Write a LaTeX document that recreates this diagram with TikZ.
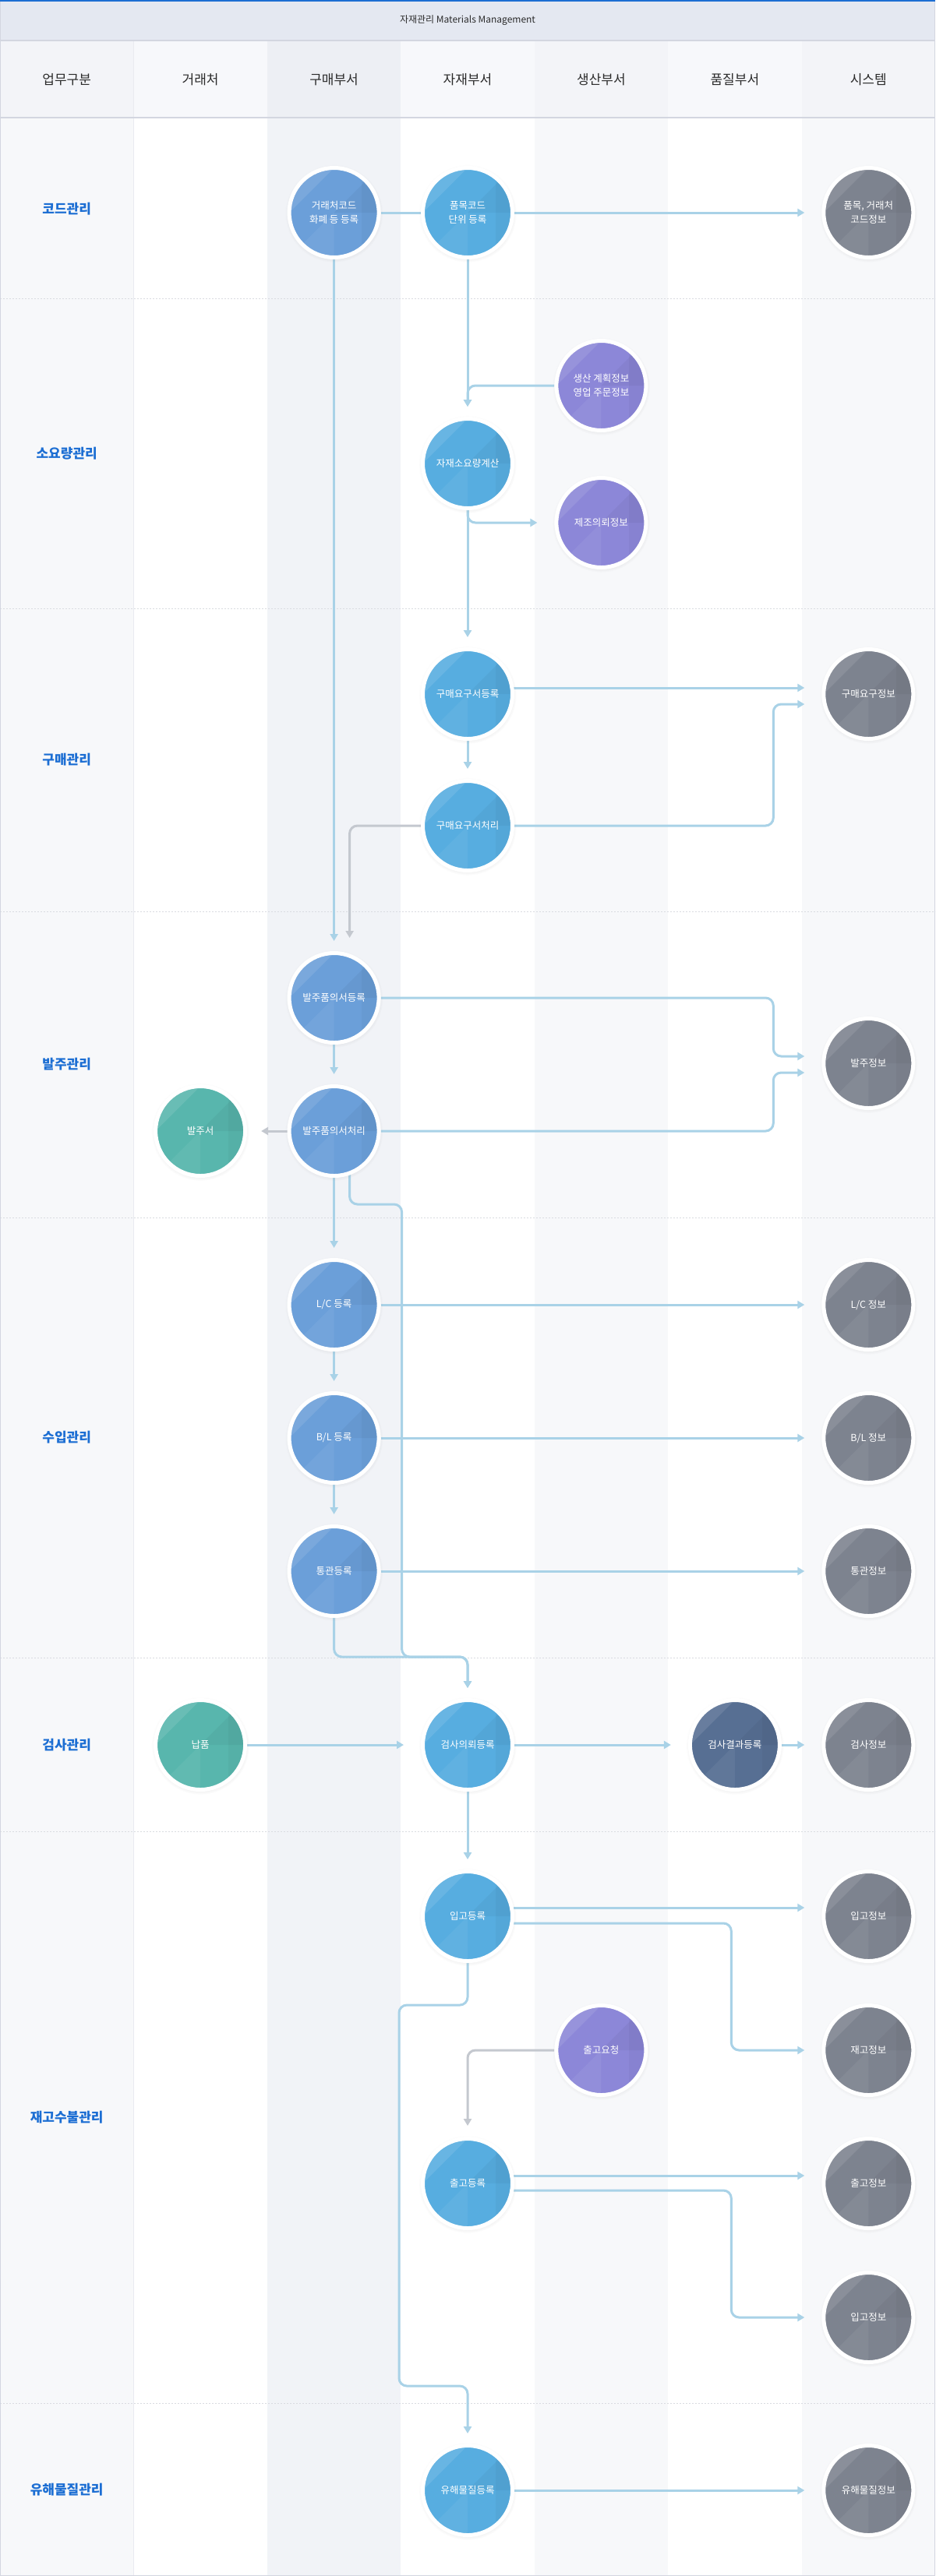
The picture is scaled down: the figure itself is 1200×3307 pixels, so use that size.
\documentclass[tikz,border=0pt]{standalone}
\usepackage{fontspec}
\setmainfont{Noto Sans CJK KR}
\usepackage{xcolor}
\usepackage{tikz}
\usetikzlibrary{arrows.meta, shadows, calc}
\definecolor{mm_blue}{HTML}{1C6ED3}
\definecolor{mm_title}{HTML}{E4E8F1}
\definecolor{mm_rule}{HTML}{D3D6E0}
\definecolor{mm_dot}{HTML}{D9DBE0}
\definecolor{mm_sep}{HTML}{E9EBF0}
\definecolor{mm_light}{HTML}{F7F8FA}
\definecolor{mm_gray}{HTML}{F1F3F7}
\definecolor{mm_hlight}{HTML}{F3F4F8}
\definecolor{mm_hwhite}{HTML}{F7F8FB}
\definecolor{mm_hgray}{HTML}{EDEFF4}
\definecolor{mm_line}{HTML}{A9D2E7}
\definecolor{mm_grayline}{HTML}{C4C8CF}
\definecolor{mm_buy}{HTML}{6B9FD9}
\definecolor{mm_mat}{HTML}{57ADE0}
\definecolor{mm_prod}{HTML}{8C87D8}
\definecolor{mm_sys}{HTML}{7D838F}
\definecolor{mm_vend}{HTML}{58B6AD}
\definecolor{mm_qual}{HTML}{576F93}
\definecolor{mm_text}{HTML}{2B2B2B}
\pgfdeclarelayer{back}
\pgfdeclarelayer{wires}
\pgfsetlayers{back,wires,main}

\begin{document}
\begin{tikzpicture}[x=1pt, y=-1pt, font=\fontsize{12.5}{18}\selectfont,
            disc/.style={circle, minimum size=115pt, inner sep=0pt, draw=white,
                         line width=5pt, text=white, align=center,
                         circular drop shadow={shadow xshift=0pt, shadow yshift=-1pt,
                                               opacity=.18, shadow scale=1.09},
                         path picture={
                           \fill[white, opacity=.10] (path picture bounding box.north west)
                             -- (path picture bounding box.north) -- (path picture bounding box.west) -- cycle;
                           \fill[white, opacity=.06] (path picture bounding box.south west)
                             -- (path picture bounding box.center) -- (path picture bounding box.south) -- cycle;
                           \fill[black, opacity=.04] (path picture bounding box.north east)
                             -- (path picture bounding box.center) -- (path picture bounding box.east) -- cycle;
                           \fill[black, opacity=.03] ([xshift=-22pt]path picture bounding box.north east)
                             rectangle (path picture bounding box.south east);}},
            buy/.style={disc, fill=mm_buy},
            mat/.style={disc, fill=mm_mat},
            prod/.style={disc, fill=mm_prod},
            sys/.style={disc, fill=mm_sys},
            vend/.style={disc, fill=mm_vend},
            qual/.style={disc, fill=mm_qual},
            head/.style={font=\fontsize{17}{20}\selectfont, text=mm_text},
            rowlab/.style={font=\fontsize{17}{20}\selectfont\bfseries, text=mm_blue},
            wire/.style={draw=mm_line, line width=3pt, rounded corners=10pt},
            flow/.style={wire, -{Triangle[width=10pt, length=9pt]}},
            hflow/.style={flow, shorten >=22pt},
            vflow/.style={flow, shorten >=13pt},
            gflow/.style={flow, draw=mm_grayline}]
  \useasboundingbox (0,0) rectangle (1200,3307);
  \begin{pgfonlayer}{back}
    \foreach \i/\c/\h in {0/mm_light/mm_hlight, 1/white/mm_hwhite, 2/mm_gray/mm_hgray,
                          3/white/mm_hwhite, 4/mm_light/mm_hlight, 5/white/mm_hwhite,
                          6/mm_light/mm_hlight} {
      \fill[\c] ({\i*1200/7},151) rectangle ({(\i+1)*1200/7},3307);
      \fill[\h] ({\i*1200/7},52) rectangle ({(\i+1)*1200/7},151);
    }
    \fill[mm_title] (0,0) rectangle (1200,52);
    \fill[mm_blue] (0,0) rectangle (1200,2);
    \draw[mm_sep, line width=1pt] (171.4,52) -- (171.4,3307);
    \draw[mm_rule, line width=1.5pt] (0,52) -- (1200,52);
    \draw[mm_rule, line width=1.5pt] (0,151) -- (1200,151);
    \foreach \y in {383, 781, 1170, 1563, 2128, 2351, 3085}
      \draw[mm_dot, line width=1pt, dash pattern=on 2pt off 2pt] (0,\y) -- (1200,\y);
    \draw[mm_rule, line width=1pt] (0.5,2) -- (0.5,3306.5) -- (1199.5,3306.5) -- (1199.5,2);
  \end{pgfonlayer}

  \node[font=\fontsize{12}{14}\selectfont, text=mm_text] (title) at (600,26)
    {자재관리 Materials Management};
  \foreach \i/\t in {0/업무구분, 1/거래처, 2/구매부서, 3/자재부서, 4/생산부서, 5/품질부서, 6/시스템}
    \node[head] (h\i) at ({(\i+0.5)*1200/7},102) {\t};
  \foreach \y/\t in {268/코드관리, 582/소요량관리, 975/구매관리, 1366/발주관리,
                     1845/수입관리, 2240/검사관리, 2718/재고수불관리, 3196/유해물질관리}
    \node[rowlab] (r\y) at (85.7,\y) {\t};

  \node[buy] (vcode) at (428.6,273) {거래처코드\\화폐 등 등록};
  \node[mat] (icode) at (600,273) {품목코드\\단위 등록};
  \node[sys] (scode) at (1114.3,273) {품목, 거래처\\코드정보};

  \node[prod] (plan) at (771.4,495) {생산 계획정보\\영업 주문정보};
  \node[mat] (calc) at (600,595) {자재소요량계산};
  \node[prod] (mfg) at (771.4,671) {제조의뢰정보};

  \node[mat] (preq) at (600,891) {구매요구서등록};
  \node[sys] (sreq) at (1114.3,891) {구매요구정보};
  \node[mat] (pproc) at (600,1060) {구매요구서처리};

  \node[buy] (oreg) at (428.6,1281) {발주품의서등록};
  \node[sys] (sord) at (1114.3,1365) {발주정보};
  \node[buy] (oproc) at (428.6,1452) {발주품의서처리};
  \node[vend] (porder) at (257.1,1452) {발주서};

  \node[buy] (lc) at (428.6,1675) {L/C 등록};
  \node[sys] (slc) at (1114.3,1675) {L/C 정보};
  \node[buy] (bl) at (428.6,1846) {B/L 등록};
  \node[sys] (sbl) at (1114.3,1846) {B/L 정보};
  \node[buy] (cust) at (428.6,2017) {통관등록};
  \node[sys] (scust) at (1114.3,2017) {통관정보};

  \node[vend] (deliv) at (257.1,2240) {납품};
  \node[mat] (insp) at (600,2240) {검사의뢰등록};
  \node[qual] (qres) at (942.9,2240) {검사결과등록};
  \node[sys] (sinsp) at (1114.3,2240) {검사정보};

  \node[mat] (recv) at (600,2460) {입고등록};
  \node[sys] (srecv) at (1114.3,2460) {입고정보};
  \node[prod] (outreq) at (771.4,2632) {출고요청};
  \node[sys] (sstock) at (1114.3,2632) {재고정보};
  \node[mat] (issue) at (600,2803) {출고등록};
  \node[sys] (sissue) at (1114.3,2803) {출고정보};
  \node[sys] (srecv2) at (1114.3,2975) {입고정보};

  \node[mat] (haz) at (600,3197) {유해물질등록};
  \node[sys] (shaz) at (1114.3,3197) {유해물질정보};

  \begin{pgfonlayer}{wires}
    \draw[wire] (vcode) -- (icode);
    \draw[hflow] (icode) -- (scode);
    \draw[vflow] (vcode) -- (oreg);
    \draw[vflow] (icode) -- (calc);
    \draw[vflow] (plan) -| (calc);
    \draw[vflow] (calc) -- (preq);
    \draw[hflow] (calc) |- (mfg);

    \draw[hflow] ([yshift=8pt]preq.center) -- ([yshift=8pt]sreq.west);
    \draw[vflow] (preq) -- (pproc);
    \draw[hflow] (pproc) -| ([shift={(-62pt,-13pt)}]sreq.west) -- ([yshift=-13pt]sreq.west);
    \draw[gflow, shorten >=17pt] (pproc) -| ([xshift=20pt]oreg.north);

    \draw[hflow] (oreg) -| ([shift={(-62pt,9pt)}]sord.west) -- ([yshift=9pt]sord.west);
    \draw[vflow] (oreg) -- (oproc);
    \draw[hflow] (oproc) -| ([shift={(-62pt,-12pt)}]sord.west) -- ([yshift=-12pt]sord.west);
    \draw[gflow, shorten >=18pt] (oproc) -- (porder);
    \draw[vflow] (oproc) -- (lc);
    \draw[vflow] ([xshift=20pt]oproc.center) -- ++(0,94) -| ++(67,581) -| (insp);

    \draw[hflow] (lc) -- (slc);
    \draw[vflow] (lc) -- (bl);
    \draw[hflow] (bl) -- (sbl);
    \draw[vflow] (bl) -- (cust);
    \draw[hflow] (cust) -- (scust);
    \draw[vflow] (cust.center) -- ++(0,110) -| (insp);

    \draw[hflow] (deliv) -- (insp);
    \draw[hflow] (insp) -- (qres);
    \draw[hflow] (qres) -- (sinsp);
    \draw[vflow] (insp) -- (recv);

    \draw[hflow] ([yshift=11pt]recv.center) -- ([yshift=11pt]srecv.west);
    \draw[hflow] ([yshift=-9pt]recv.center) -| ([xshift=-116pt]sstock.west) -- (sstock);
    \draw[vflow] (recv.center) -- ++(0,114) -| ++(-88,489) -| (haz);
    \draw[gflow, shorten >=14pt] (outreq) -| (issue);
    \draw[hflow] ([yshift=10pt]issue.center) -- ([yshift=10pt]sissue.west);
    \draw[hflow] ([yshift=-9pt]issue.center) -| ([xshift=-116pt]srecv2.west) -- (srecv2);

    \draw[hflow] (haz) -- (shaz);
  \end{pgfonlayer}
\end{tikzpicture}
\end{document}
